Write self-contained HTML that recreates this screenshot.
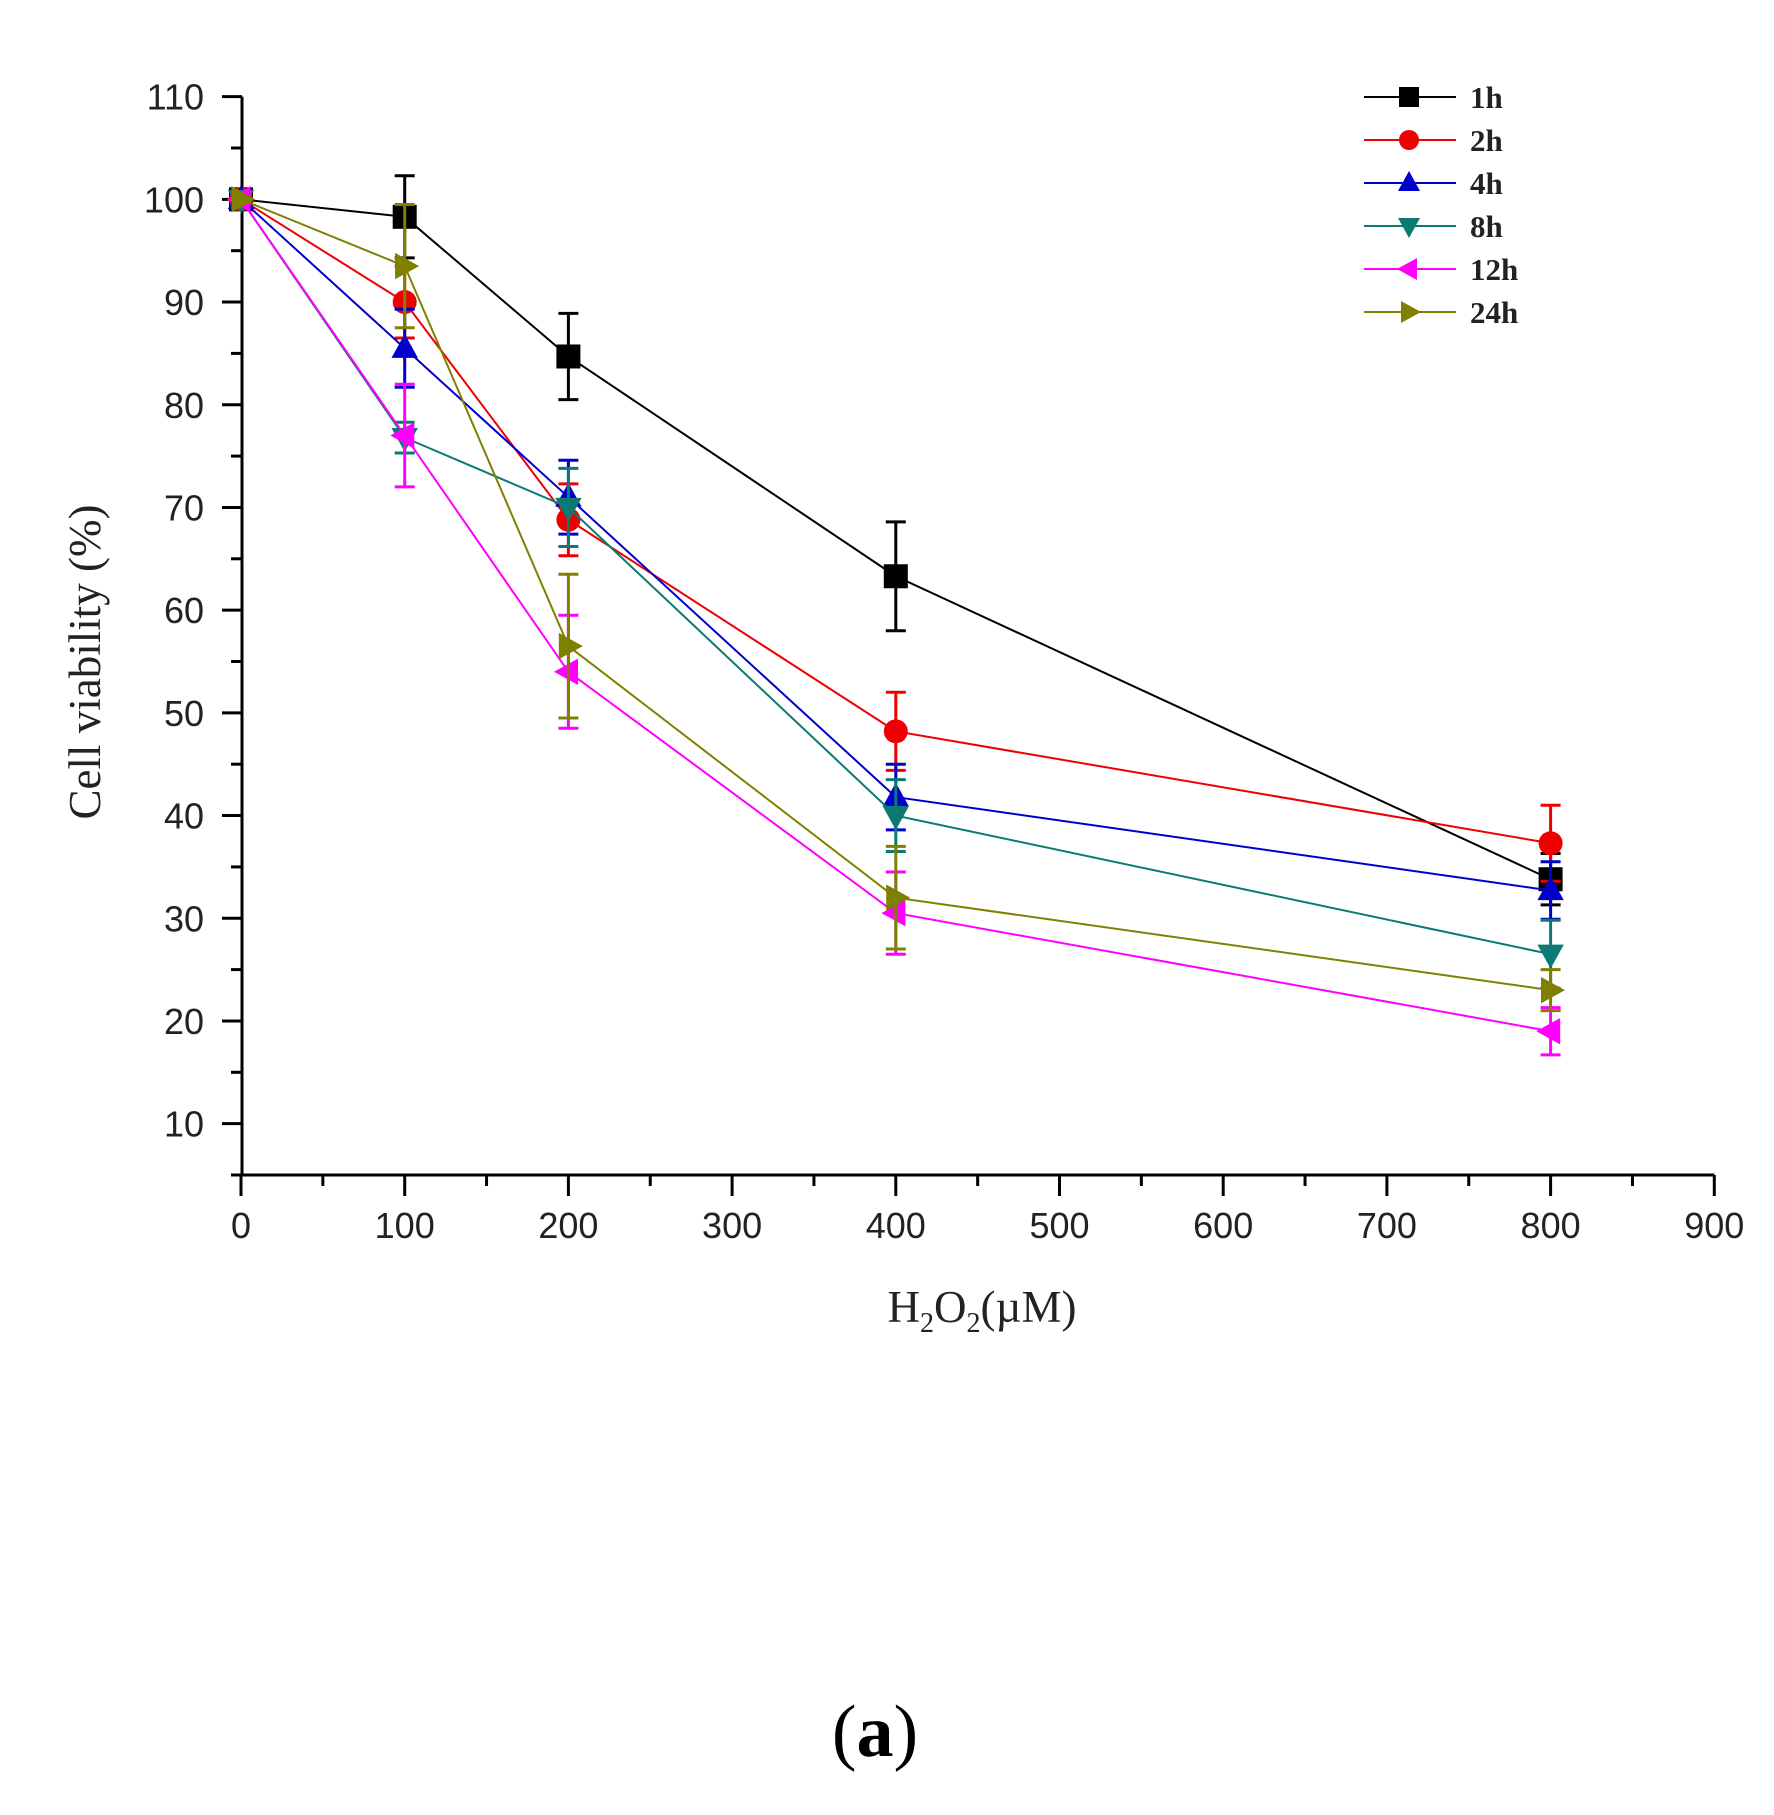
<!DOCTYPE html>
<html><head><meta charset="utf-8"><style>body{margin:0;background:#fff}</style></head>
<body>
<svg id="s" width="1774" height="1810" xmlns="http://www.w3.org/2000/svg" font-family="Liberation Sans, sans-serif"></svg>
<script>
const s=document.getElementById('s');let h='';
const X=v=>241+1.637*v, Y=v=>1175-(v-5)*10.27;
h+=`<path d="M242 ${Y(110)}V1175H${X(900)}" fill="none" stroke="#000" stroke-width="3"/>`;
for(let v=10;v<=110;v+=10){h+=`<line x1="222" x2="242" y1="${Y(v)}" y2="${Y(v)}" stroke="#000" stroke-width="3"/><text x="204" y="${Y(v)+13}" font-size="36" text-anchor="end" fill="#222">${v}</text>`;}
for(let v=5;v<=105;v+=10)h+=`<line x1="231" x2="242" y1="${Y(v)}" y2="${Y(v)}" stroke="#000" stroke-width="3"/>`;
for(let v=0;v<=900;v+=100){h+=`<line x1="${X(v)}" x2="${X(v)}" y1="1175" y2="1196" stroke="#000" stroke-width="3"/><text x="${X(v)}" y="1238" font-size="36" text-anchor="middle" fill="#222">${v}</text>`;}
for(let v=50;v<=850;v+=100)h+=`<line x1="${X(v)}" x2="${X(v)}" y1="1175" y2="1186" stroke="#000" stroke-width="3"/>`;
h+=`<text transform="translate(100,662) rotate(-90)" font-family="Liberation Serif, serif" font-size="45" text-anchor="middle" fill="#222">Cell viability (%)</text>`;
h+=`<text x="982" y="1322" font-family="Liberation Serif, serif" font-size="45" text-anchor="middle" fill="#222">H<tspan font-size="28" dy="10">2</tspan><tspan dy="-10">O</tspan><tspan font-size="28" dy="10">2</tspan><tspan dy="-10">(µM)</tspan></text>`;
h+=`<text x="875" y="1756" font-family="Liberation Serif, serif" font-size="74" text-anchor="middle" fill="#000">(<tspan font-weight="bold">a</tspan>)</text>`;
const xs=[0,100,200,400,800];
const S=[
['#000','sq',[100,98.3,84.7,63.3,33.8],[0,4,4.2,5.3,2.5]],
['#e00','ci',[100,90,68.8,48.2,37.3],[0,3.5,3.5,3.8,3.7]],
['#00c','up',[100,85.5,71,41.8,32.7],[0,3.8,3.6,3.2,2.8]],
['#0a7a72','dn',[100,76.8,70,40,26.5],[0,1.5,3.8,3.5,3.3]],
['#f0f','lt',[100,77,54,30.5,19],[0,5,5.5,4,2.3]],
['#808000','rt',[100,93.5,56.5,32,23],[0,6,7,5,2]]];
function mk(t,x,y,c,r){
 if(t=='sq')return `<rect x="${x-r}" y="${y-r}" width="${2*r}" height="${2*r}" fill="${c}"/>`;
 if(t=='ci')return `<circle cx="${x}" cy="${y}" r="${r}" fill="${c}"/>`;
 let p;
 if(t=='up')p=[[x,y-r*1.2],[x-r*1.1,y+r*.8],[x+r*1.1,y+r*.8]];
 if(t=='dn')p=[[x,y+r*1.2],[x-r*1.1,y-r*.8],[x+r*1.1,y-r*.8]];
 if(t=='lt')p=[[x-r*1.2,y],[x+r*.8,y-r*1.1],[x+r*.8,y+r*1.1]];
 if(t=='rt')p=[[x+r*1.2,y],[x-r*.8,y-r*1.1],[x-r*.8,y+r*1.1]];
 return `<polygon points="${p.map(q=>q.join(',')).join(' ')}" fill="${c}"/>`;
}
S.forEach(([c,t,v,e])=>{
 h+=`<polyline points="${xs.map((x,i)=>X(x)+','+Y(v[i])).join(' ')}" fill="none" stroke="${c}" stroke-width="2"/>`;
 xs.forEach((x,i)=>{if(e[i]){const a=Y(v[i]-e[i]),b=Y(v[i]+e[i]);h+=`<path d="M${X(x)} ${a}V${b}M${X(x)-10} ${a}h20M${X(x)-10} ${b}h20" stroke="${c}" stroke-width="3"/>`;}});
 xs.forEach((x,i)=>h+=mk(t,X(x),Y(v[i]),c,12));
});
const ln=['1h','2h','4h','8h','12h','24h'];
S.forEach(([c,t],i)=>{const y=97+i*43;h+=`<line x1="1364" x2="1456" y1="${y}" y2="${y}" stroke="${c}" stroke-width="2"/>`+mk(t,1409,y,c,10)+`<text x="1470" y="${y+11}" font-family="Liberation Serif, serif" font-weight="bold" font-size="31" fill="#222">${ln[i]}</text>`;});
s.innerHTML=h;
</script>
</body></html>
